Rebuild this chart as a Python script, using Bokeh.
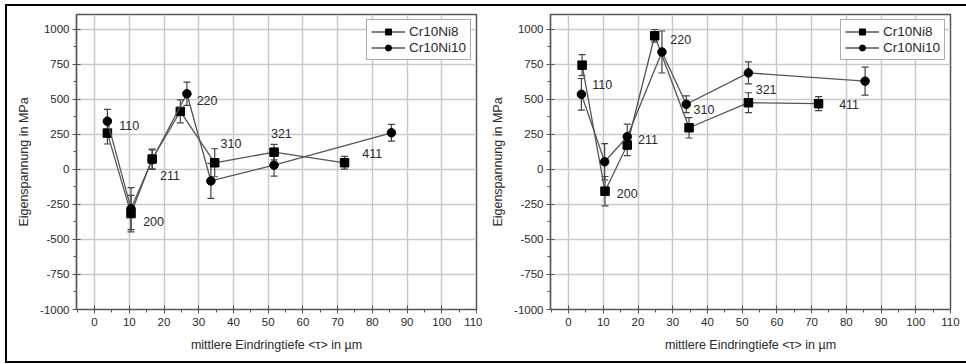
from bokeh.plotting import figure
from bokeh.models import (ColumnDataSource, Whisker, TeeHead, Label, Legend, LegendItem,
                          SingleIntervalTicker, Range1d, CustomJSTickFormatter)
from bokeh.layouts import row
from bokeh.embed import file_html
from bokeh.resources import INLINE

# ---------------- data ----------------
series_names = ["Cr10Ni8", "Cr10Ni10"]
hkl = ["110", "200", "211", "220", "310", "321", "411"]

# left chart
L_x_ni8 = [3.7, 10.5, 16.6, 24.7, 34.6, 51.7, 72.0]
L_y_ni8 = [260, -315, 75, 415, 48, 124, 48]
L_e_ni8 = [78, 130, 70, 82, 100, 55, 45]
L_x_ni10 = [3.7, 10.5, 16.6, 26.6, 33.5, 51.7, 85.5]
L_y_ni10 = [345, -280, 70, 541, -82, 31, 262]
L_e_ni10 = [85, 150, 70, 83, 125, 78, 60]
L_lab_x = [10.0, 17.0, 21.7, 32.4, 39.3, 53.8, 80.0]
L_lab_y = [314, -371, -43, 493, 188, 255, 112]

# right chart
R_x_ni8 = [3.9, 10.5, 16.9, 24.8, 34.7, 51.8, 72.0]
R_y_ni8 = [745, -155, 175, 955, 298, 477, 470]
R_e_ni8 = [75, 105, 76, 45, 73, 71, 50]
R_x_ni10 = [3.7, 10.4, 16.9, 26.9, 33.9, 51.8, 85.4]
R_y_ni10 = [537, 55, 234, 839, 466, 690, 631]
R_e_ni10 = [113, 130, 90, 150, 60, 78, 100]
R_lab_x = [9.7, 16.9, 22.9, 32.3, 39.0, 56.9, 80.8]
R_lab_y = [608, -173, 211, 927, 425, 572, 461]

x_label = "mittlere Eindringtiefe <τ> in µm"
y_label = "Eigenspannung in MPa"

FONT = "Liberation Sans"
LINE_C = "#555555"
TXT_C = "#2a2a2a"


def make_plot(xs, ys, es, lab_x, lab_y, width, border_left, border_right):
    p = figure(width=width, height=355, output_backend="svg", toolbar_location=None,
               x_range=Range1d(-5.2, 110), y_range=Range1d(-1000, 1107),
               min_border_left=border_left, min_border_right=border_right,
               min_border_top=8, min_border_bottom=52)
    p.outline_line_color = "#555555"
    p.outline_line_width = 1.5
    p.background_fill_color = "white"
    p.border_fill_color = "white"

    p.xaxis.ticker = SingleIntervalTicker(interval=10, num_minor_ticks=2)
    p.yaxis.ticker = SingleIntervalTicker(interval=250, num_minor_ticks=2)
    fmt = "return tick.toString();"
    for ax in (p.xaxis[0], p.yaxis[0]):
        ax.formatter = CustomJSTickFormatter(code=fmt)
        ax.axis_line_color = "#555555"
        ax.axis_line_width = 1.2
        ax.major_tick_line_color = "#555555"
        ax.minor_tick_line_color = "#555555"
        ax.major_tick_in = 4
        ax.major_tick_out = 4
        ax.minor_tick_in = 0
        ax.minor_tick_out = 3
        ax.major_label_text_font = FONT
        ax.major_label_text_font_size = "11.5px"
        ax.major_label_text_color = TXT_C
        ax.axis_label_text_font = FONT
        ax.axis_label_text_font_size = "12.5px"
        ax.axis_label_text_font_style = "normal"
        ax.axis_label_text_color = TXT_C
    p.xaxis.axis_label = x_label
    p.yaxis.axis_label = y_label
    p.xaxis.major_label_standoff = 4
    p.xaxis.axis_label_standoff = 9
    p.yaxis.major_label_standoff = 3
    p.yaxis.axis_label_standoff = 6

    p.grid.grid_line_color = "#c9c9c9"
    p.grid.grid_line_width = 1.5

    items = []
    markers = ["square", "circle"]
    for (x, y, e), mk, name in zip(zip(xs, ys, es), markers, series_names):
        src = ColumnDataSource(dict(x=x, y=y,
                                    upper=[a + b for a, b in zip(y, e)],
                                    lower=[a - b for a, b in zip(y, e)]))
        lr = p.line("x", "y", source=src, line_color=LINE_C, line_width=1.3)
        w = Whisker(base="x", upper="upper", lower="lower", source=src,
                    line_color="#444444", line_width=1.2,
                    upper_head=TeeHead(size=7, line_color="#444444", line_width=1.2),
                    lower_head=TeeHead(size=7, line_color="#444444", line_width=1.2))
        p.add_layout(w)
        sr = p.scatter("x", "y", source=src, marker=mk, size=8.5,
                       fill_color="black", line_color="black")
        items.append(LegendItem(label=name, renderers=[lr, sr]))

    for t, lx, ly in zip(hkl, lab_x, lab_y):
        p.add_layout(Label(x=lx, y=ly, text=t, text_align="center", text_baseline="middle",
                           text_font=FONT, text_font_size="12.5px", text_color=TXT_C))

    leg = Legend(items=items, location="top_right")
    leg.label_text_font = FONT
    leg.label_text_font_size = "13.5px"
    leg.label_text_color = TXT_C
    leg.glyph_width = 34
    leg.glyph_height = 15
    leg.label_height = 15
    leg.label_standoff = 4
    leg.spacing = 1
    leg.padding = 4
    leg.margin = 5
    leg.border_line_color = "#555555"
    leg.border_line_width = 1
    leg.background_fill_alpha = 1
    p.add_layout(leg)
    return p


p1 = make_plot([L_x_ni8, L_x_ni10], [L_y_ni8, L_y_ni10], [L_e_ni8, L_e_ni10],
               L_lab_x, L_lab_y, width=475, border_left=69, border_right=6)
p2 = make_plot([R_x_ni8, R_x_ni10], [R_y_ni8, R_y_ni10], [R_e_ni8, R_e_ni10],
               R_lab_x, R_lab_y, width=484, border_left=68, border_right=16)

layout = row(p1, p2, styles={"border-top": "2px solid black", "border-left": "2px solid black",
                             "border-bottom": "2px solid black", "border-right": "none",
                             "margin-top": "4px", "margin-left": "5px"})

open("out.html", "w").write(file_html(layout, INLINE))
